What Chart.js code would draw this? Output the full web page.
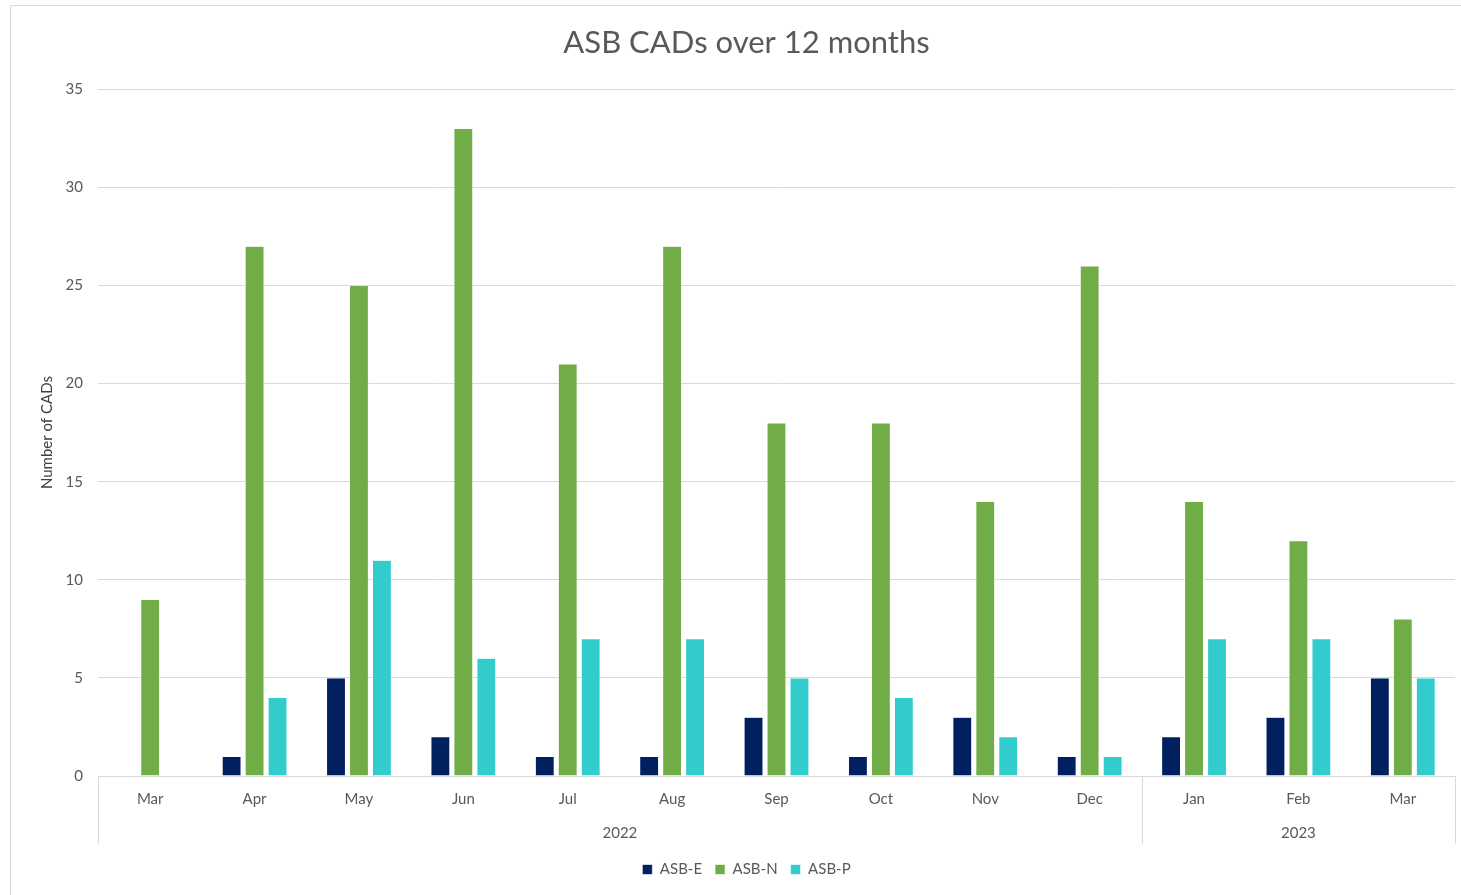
<!DOCTYPE html>
<html>
<head>
    <meta charset="utf-8" />
    <title>ASB CADs over 12 months</title>
    <script src="https://cdn.jsdelivr.net/npm/chart.js"></script>
    <style>
        html, body { margin: 0; padding: 0; background: #fff; }
        #wrap { width: 1461px; height: 895px; }
    </style>
</head>
<body>
    <div id="wrap">
        <canvas id="myChart"></canvas>
    </div>

    <script>
        // months and the year each one belongs to
        const months = ['Mar', 'Apr', 'May', 'Jun', 'Jul', 'Aug', 'Sep', 'Oct', 'Nov', 'Dec', 'Jan', 'Feb', 'Mar'];
        const years = ['2022', '2022', '2022', '2022', '2022', '2022', '2022', '2022', '2022', '2022', '2023', '2023', '2023'];

        const asbE = [null, 1, 5, 2, 1, 1, 3, 1, 3, 1, 2, 3, 5];
        const asbN = [9, 27, 25, 33, 21, 27, 18, 18, 14, 26, 14, 12, 8];
        const asbP = [null, 4, 11, 6, 7, 7, 5, 4, 2, 1, 7, 7, 5];

        const yTicks = [0, 5, 10, 15, 20, 25, 30, 35];

        const gridGray = '#d9d9d9';
        const textGray = '#595959';
        const fontFam = 'Lato, "Open Sans", sans-serif';

        // outer border + year groups under the month labels
        const yearAxis = {
            id: 'yearAxis',
            beforeDraw(chart) {
                const ctx = chart.ctx;
                ctx.save();
                ctx.strokeStyle = gridGray;
                ctx.lineWidth = 1;
                ctx.beginPath();
                ctx.moveTo(10.5, 895);
                ctx.lineTo(10.5, 5.5);
                ctx.lineTo(1461, 5.5);
                ctx.stroke();
                ctx.restore();
            },
            afterDraw(chart) {
                const ctx = chart.ctx;
                const x = chart.scales.x;
                const area = chart.chartArea;
                const bottom = area.bottom + 68;
                // find group boundaries
                const groups = [];
                let start = 0;
                for (let i = 1; i <= years.length; i++) {
                    if (i === years.length || years[i] !== years[start]) {
                        groups.push({ name: years[start], from: start, to: i - 1 });
                        start = i;
                    }
                }
                function edge(i) {
                    if (i <= 0) return area.left;
                    if (i >= months.length) return area.right;
                    return (x.getPixelForValue(i - 1) + x.getPixelForValue(i)) / 2;
                }
                ctx.save();
                ctx.strokeStyle = gridGray;
                ctx.lineWidth = 1;
                ctx.fillStyle = textGray;
                ctx.font = '15px ' + fontFam;
                ctx.textAlign = 'center';
                ctx.textBaseline = 'middle';
                groups.forEach(function (g, k) {
                    const l = edge(g.from);
                    const r = edge(g.to + 1);
                    ctx.beginPath();
                    if (k === 0) {
                        ctx.moveTo(Math.round(l) + 0.5, area.bottom);
                        ctx.lineTo(Math.round(l) + 0.5, bottom);
                    }
                    ctx.moveTo(Math.round(r) + 0.5, area.bottom);
                    ctx.lineTo(Math.round(r) + 0.5, bottom);
                    ctx.stroke();
                    ctx.fillText(g.name, (l + r) / 2, area.bottom + 57);
                });
                ctx.restore();
            }
        };

        const data = {
            labels: months,
            datasets: [
                { label: 'ASB-E', data: asbE, backgroundColor: '#002060', borderColor: '#ffffff', borderWidth: 0.6 },
                { label: 'ASB-N', data: asbN, backgroundColor: '#70ad47', borderColor: '#ffffff', borderWidth: 0.6 },
                { label: 'ASB-P', data: asbP, backgroundColor: '#33cccc', borderColor: '#ffffff', borderWidth: 0.6 }
            ]
        };

        const config = {
            type: 'bar',
            data,
            plugins: [yearAxis],
            options: {
                responsive: true,
                maintainAspectRatio: false,
                animation: false,
                layout: { padding: { left: 38, right: 6, top: 6, bottom: 8 } },
                datasets: {
                    bar: { categoryPercentage: 0.66, barPercentage: 0.83 }
                },
                plugins: {
                    title: {
                        display: true,
                        text: 'ASB CADs over 12 months',
                        color: textGray,
                        font: { family: fontFam, size: 31, weight: 'normal' },
                        padding: { top: 18, bottom: 28 }
                    },
                    legend: {
                        position: 'bottom',
                        labels: {
                            color: textGray,
                            font: { family: fontFam, size: 15 },
                            boxWidth: 10,
                            boxHeight: 10,
                            padding: 13
                        }
                    },
                    tooltip: { enabled: false }
                },
                scales: {
                    x: {
                        grid: { display: false, drawTicks: false },
                        border: { display: true, color: gridGray, width: 1 },
                        ticks: {
                            color: textGray,
                            font: { family: fontFam, size: 15 },
                            padding: 14,
                            maxRotation: 0
                        },
                        afterFit(scale) { scale.height = 73; }
                    },
                    y: {
                        min: 0,
                        max: 35,
                        afterBuildTicks(scale) {
                            scale.ticks = yTicks.map(function (v) { return { value: v }; });
                        },
                        grid: { color: gridGray, drawTicks: false },
                        border: { display: false },
                        ticks: {
                            color: textGray,
                            font: { family: fontFam, size: 15 },
                            padding: 15
                        },
                        title: {
                            display: true,
                            text: 'Number of CADs',
                            color: '#404040',
                            font: { family: fontFam, size: 15 },
                            padding: { top: 0, bottom: 0 }
                        },
                        afterFit(scale) { scale.width = 60; }
                    }
                }
            }
        };

        var myChart = new Chart(document.getElementById('myChart'), config);
    </script>
</body>
</html>
